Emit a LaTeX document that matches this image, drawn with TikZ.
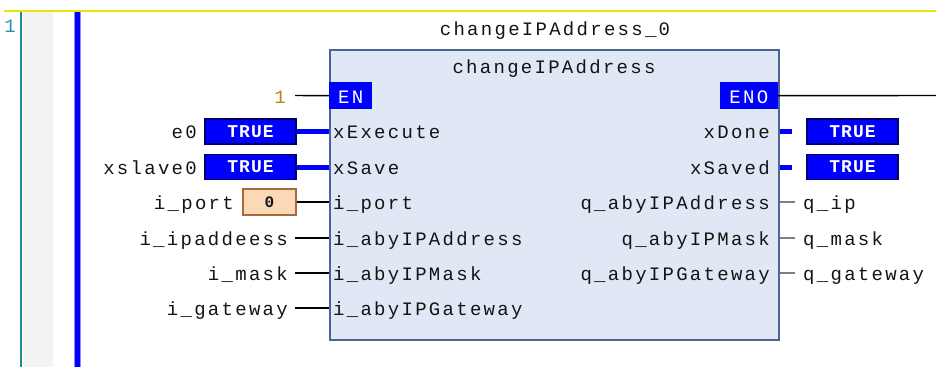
\documentclass[tikz,border=0pt]{standalone}
\usepackage{fontspec}
\newfontfamily\plc[LetterSpace=12]{Liberation Mono}
\newfontfamily\plcb[LetterSpace=6]{Liberation Mono}
\definecolor{railblue}{HTML}{0000FF}
\definecolor{navy}{HTML}{000066}
\definecolor{fbfill}{HTML}{E1E8F5}
\definecolor{fbline}{HTML}{4A6696}
\definecolor{teal1}{HTML}{1E8A8A}
\definecolor{numteal}{HTML}{2B91AF}
\definecolor{olive1}{HTML}{A88A10}
\definecolor{peach}{HTML}{FCD9B6}
\definecolor{peachline}{HTML}{A8683A}
\definecolor{strip}{HTML}{F3F3F3}
\definecolor{yel}{HTML}{E6E600}
\definecolor{ink}{HTML}{141414}
\tikzset{
  txt/.style={inner sep=0pt, font=\plc\fontsize{19}{22}\selectfont, text=ink},
  truebox/.style={draw=navy, line width=1.3pt, fill=railblue, minimum width=91pt, minimum height=25pt, inner sep=0pt, text=white, font=\plcb\bfseries\fontsize{18}{22}\selectfont},
  constbox/.style={draw=peachline, line width=1.3pt, fill=peach, minimum width=53pt, minimum height=26pt, inner sep=0pt, text=ink, font=\plcb\bfseries\fontsize{16}{20}\selectfont},
  enbox/.style={fill=railblue, inner sep=0pt, text=white, font=\plc\fontsize{19}{22}\selectfont},
  bline/.style={railblue, line width=5pt},
  kline/.style={black, line width=1.4pt},
  gline/.style={gray, line width=1.4pt},
}
\begin{document}
\begin{tikzpicture}[x=1pt,y=-1pt]
\useasboundingbox (0,0) rectangle (936,367);
% editor decoration
\fill[strip] (23,12) rectangle (53,367);
\draw[yel, line width=1.5pt] (4,11) -- (936,11);
\draw[teal1, line width=2pt] (21,12) -- (21,367);
\node[txt, text=numteal, anchor=base] (ln) at (10,32) {1};
\fill[railblue!45] (74,12) rectangle (81,367);
\fill[railblue] (75,12) rectangle (80,367);
% function block
\node[draw=fbline, line width=1.5pt, fill=fbfill, minimum width=449pt, minimum height=290pt, inner sep=0pt, anchor=north west] (fb) at (329,49) {};
\node[txt, anchor=base] (inst) at (555,35) {changeIPAddress\_0};
\node[txt, anchor=base] (type) at (554,73) {changeIPAddress};
\node[fill=railblue, minimum width=43pt, minimum height=27pt, inner sep=0pt, anchor=north west] (en) at (329,82) {};
\node[enbox, anchor=base] (entxt) at (en.center |- 0,103) {EN};
\node[fill=railblue, minimum width=58pt, minimum height=27pt, inner sep=0pt, anchor=north east] (eno) at (778,82) {};
\node[enbox, anchor=base] (enotxt) at (eno.center |- 0,103) {ENO};
\node[txt, text=olive1, anchor=base east] (one) at (286,103) {1};
\coordinate (oneend) at (295,95.5);
\draw[kline] (oneend) -- (en.west);
\coordinate (enoend) at (936,95.5);
\draw[kline] (eno.east) -- (enoend);
% inner input pins
\node[txt, anchor=base west] (pExec) at (333,138.5) {xExecute};
\node[txt, anchor=base west] (pSave) at (333,174.5) {xSave};
\node[txt, anchor=base west] (pPort) at (333,209.5) {i\_port};
\node[txt, anchor=base west] (pAddr) at (333,245.5) {i\_abyIPAddress};
\node[txt, anchor=base west] (pMask) at (333,280.5) {i\_abyIPMask};
\node[txt, anchor=base west] (pGw) at (333,315.5) {i\_abyIPGateway};
% inner output pins
\node[txt, anchor=base east] (pDone) at (770,138.5) {xDone};
\node[txt, anchor=base east] (pSaved) at (770,174.5) {xSaved};
\node[txt, anchor=base east] (pQip) at (770,209.5) {q\_abyIPAddress};
\node[txt, anchor=base east] (pQmask) at (770,245.5) {q\_abyIPMask};
\node[txt, anchor=base east] (pQgw) at (770,280.5) {q\_abyIPGateway};
% input values
\node[truebox] (t1) at (250.5,131.5) {TRUE};
\node[truebox] (t2) at (250.5,167) {TRUE};
\node[constbox] (c0) at (269.5,202) {0};
\node[txt, anchor=base east] (vE0) at (197,138.5) {e0};
\node[txt, anchor=base east] (vXs) at (197,174.5) {xslave0};
\node[txt, anchor=base east] (vPort) at (234,209.5) {i\_port};
\node[txt, anchor=base east] (vAddr) at (288,245.5) {i\_ipaddeess};
\node[txt, anchor=base east] (vMask) at (288,280.5) {i\_mask};
\node[txt, anchor=base east] (vGw) at (288,315.5) {i\_gateway};
\coordinate (aL) at (295,238);
\coordinate (mL) at (295,273);
\coordinate (gL) at (295,308);
\draw[bline] (t1.east) -- (fb.west |- t1.east);
\draw[bline] (t2.east) -- (fb.west |- t2.east);
\draw[kline] (c0.east) -- (fb.west |- c0.east);
\draw[kline] (aL) -- (fb.west |- aL);
\draw[kline] (mL) -- (fb.west |- mL);
\draw[kline] (gL) -- (fb.west |- gL);
% output values
\node[truebox] (t3) at (852.5,131.5) {TRUE};
\node[truebox] (t4) at (852.5,167) {TRUE};
\node[txt, anchor=base west] (oIp) at (803,209.5) {q\_ip};
\node[txt, anchor=base west] (oMask) at (803,245.5) {q\_mask};
\node[txt, anchor=base west] (oGw) at (803,280.5) {q\_gateway};
\coordinate (ipR) at (795,202);
\coordinate (maskR) at (795,238);
\coordinate (gwR) at (795,273);
\draw[bline] (fb.east |- t3.west) -- ([xshift=-14pt]t3.west);
\draw[bline] (fb.east |- t4.west) -- ([xshift=-14pt]t4.west);
\draw[gline] (fb.east |- ipR) -- (ipR);
\draw[gline] (fb.east |- maskR) -- (maskR);
\draw[gline] (fb.east |- gwR) -- (gwR);
\end{tikzpicture}
\end{document}
